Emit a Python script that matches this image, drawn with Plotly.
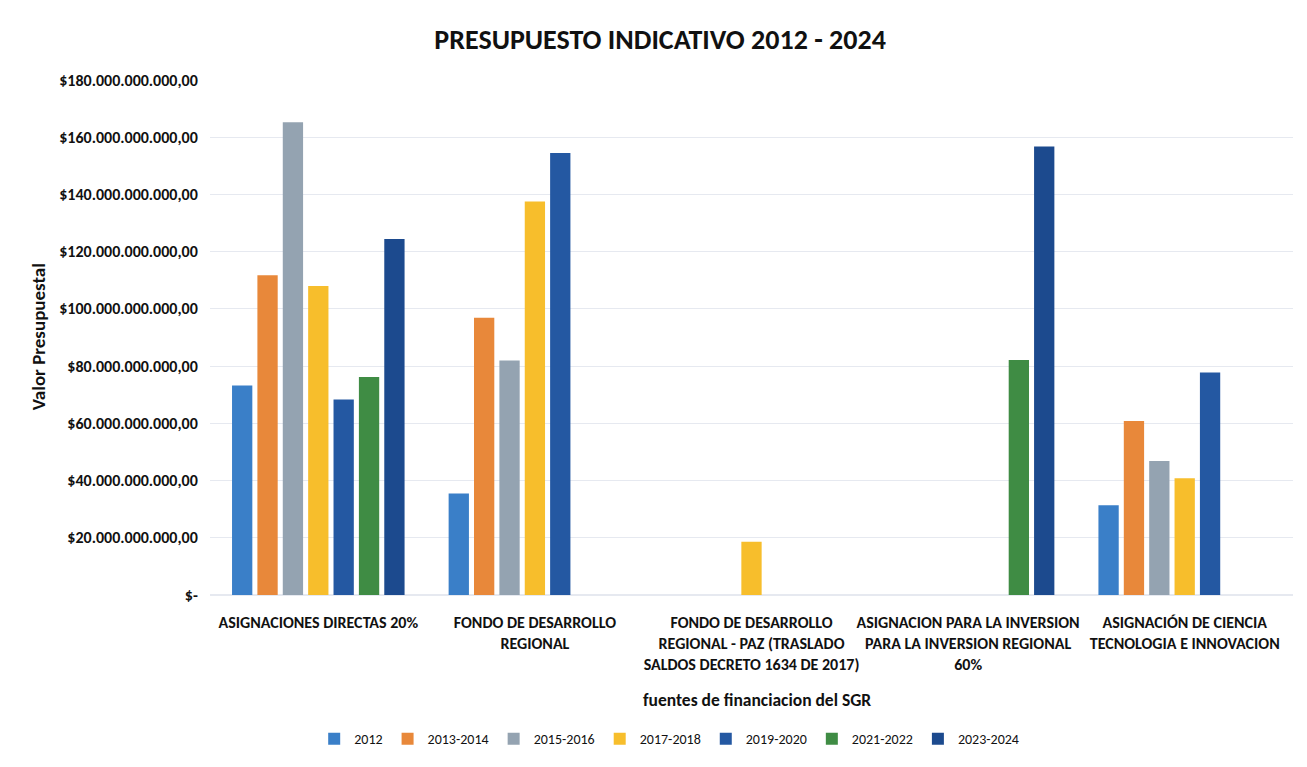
import plotly.graph_objects as go

categories = [
    "ASIGNACIONES DIRECTAS 20%",
    "FONDO DE DESARROLLO<br>REGIONAL",
    "FONDO DE DESARROLLO<br>REGIONAL - PAZ (TRASLADO<br>SALDOS DECRETO 1634 DE 2017)",
    "ASIGNACION PARA LA INVERSION<br>PARA LA INVERSION REGIONAL<br>60%",
    "ASIGNACIÓN DE CIENCIA<br>TECNOLOGIA E INNOVACION",
]

series_names = ["2012", "2013-2014", "2015-2016", "2017-2018", "2019-2020", "2021-2022", "2023-2024"]

B = 1e9
v2012 = [73.2 * B, 35.5 * B, None, None, 31.4 * B]
v2013_2014 = [111.8 * B, 96.9 * B, None, None, 60.8 * B]
v2015_2016 = [165.2 * B, 82.0 * B, None, None, 46.8 * B]
v2017_2018 = [108.0 * B, 137.5 * B, 18.6 * B, None, 40.8 * B]
v2019_2020 = [68.3 * B, 154.5 * B, None, None, 77.8 * B]
v2021_2022 = [76.2 * B, None, None, 82.1 * B, None]
v2023_2024 = [124.4 * B, None, None, 156.8 * B, None]

series_values = [v2012, v2013_2014, v2015_2016, v2017_2018, v2019_2020, v2021_2022, v2023_2024]
colors = ["#3A7FC8", "#E8883A", "#94A3B1", "#F7BE2C", "#2458A2", "#3F8C44", "#1C4A8E"]

tick_vals = [0, 20 * B, 40 * B, 60 * B, 80 * B, 100 * B, 120 * B, 140 * B, 160 * B, 180 * B]
tick_text = ["$-", "$20.000.000.000,00", "$40.000.000.000,00", "$60.000.000.000,00",
             "$80.000.000.000,00", "$100.000.000.000,00", "$120.000.000.000,00",
             "$140.000.000.000,00", "$160.000.000.000,00", "$180.000.000.000,00"]

FONT = "Carlito, 'Liberation Sans Narrow', Roboto, 'Open Sans', sans-serif"
TXT = "#111111"
CLEAR = "rgba(0,0,0,0)"

fig = go.Figure()
for name, vals, col in zip(series_names, series_values, colors):
    fig.add_trace(go.Bar(name=name, x=categories, y=vals, marker_color=col,
                         marker_line_width=0))

fig.update_layout(
    width=1299, height=759,
    barmode="group", bargap=0.18, bargroupgap=0.2,
    plot_bgcolor="white", paper_bgcolor="white",
    margin=dict(l=202, r=14, t=72, b=165),
    font=dict(family=FONT, color=TXT),
    title=dict(text="<b>PRESUPUESTO INDICATIVO 2012 - 2024</b>", x=0.502, xanchor="center",
               y=0.959, yanchor="middle", font=dict(size=28, family=FONT, color=TXT)),
    legend=dict(orientation="h", x=0.424, xanchor="center", y=-0.28, yanchor="middle",
                font=dict(size=14, family=FONT, color=TXT), itemwidth=30,
                traceorder="normal"),
    annotations=[
        dict(text="<b>fuentes de financiacion del SGR</b>", xref="paper", yref="paper",
             x=0.505, y=-0.203, xanchor="center", yanchor="middle", showarrow=False,
             font=dict(size=17.5, family=FONT, color=TXT)),
        dict(text="<b>Valor Presupuestal</b>", xref="paper", yref="paper",
             x=-0.158, y=0.502, xanchor="center", yanchor="middle", showarrow=False,
             textangle=-90, font=dict(size=19, family=FONT, color=TXT)),
    ],
)
fig.update_yaxes(range=[0, 180 * B], tickvals=tick_vals,
                 ticktext=["<b>" + t + "</b>" for t in tick_text],
                 showgrid=True, gridcolor="#E6E9F0", gridwidth=1, zeroline=True,
                 zerolinecolor="#E6E9F0", showline=False, automargin=False,
                 tickfont=dict(size=16, family=FONT, color=TXT),
                 ticks="outside", ticklen=8, tickcolor=CLEAR)
fig.update_xaxes(showline=False, tickangle=0, automargin=False,
                 ticktext=["<b>" + c + "</b>" for c in categories], tickvals=categories,
                 tickfont=dict(size=16, family=FONT, color=TXT),
                 ticks="outside", ticklen=13, tickcolor=CLEAR)

fig.write_html("out.html")
